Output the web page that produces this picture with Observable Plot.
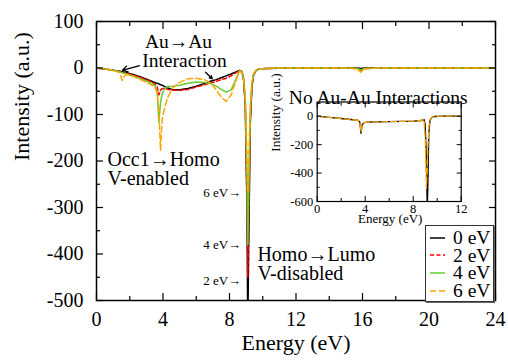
<!DOCTYPE html>
<html><head><meta charset="utf-8">
<script src="https://cdn.jsdelivr.net/npm/d3@7"></script>
<script src="https://cdn.jsdelivr.net/npm/@observablehq/plot@0.6"></script>
<style>
body{margin:0;background:#fff;}
#wrap{position:relative;width:508px;height:360px;overflow:hidden;font-family:"Liberation Serif",serif;background:#fff;}
#wrap svg{display:block;}
#inset{position:absolute;left:260px;top:75px;}
#legend{position:absolute;left:425px;top:225px;width:67px;height:72px;border:1px solid #333;box-shadow:1px 1px 0 #666;background:#fff;padding-top:3px;box-sizing:content-box;}
.row{display:flex;align-items:center;height:17.6px;font-size:19.5px;line-height:17.6px;white-space:nowrap;font-family:"Liberation Serif",serif;}
.row svg{margin-left:4px;margin-right:8px;}
</style>
</head><body>
<div id="wrap"><div id="main"></div><div id="inset"></div><div id="legend"></div></div>
<script>
// ---------- data ----------
const seriesNames = ["0 eV", "2 eV", "4 eV", "6 eV"];
const energy = [0, 0.5, 1.0, 1.4, 1.55, 1.65, 1.8, 2.2, 2.7, 3.2, 3.5, 3.65, 3.75, 3.85, 3.95, 4.1, 4.3, 4.6, 5.0, 5.5, 6.0, 6.5, 6.9, 7.2, 7.5, 7.8, 8.1, 8.35, 8.6, 8.75, 8.85, 8.95, 9.05, 9.1, 9.15, 9.25, 9.35, 9.45, 9.6, 9.8, 10.2, 11, 13, 15, 15.7, 15.9, 16.1, 17, 20, 24];
const int0eV = [0, -2, -5, -7, -8, -9, -10, -14, -20, -27, -31, -33, -34, -36, -37, -40, -43, -47, -47, -44, -39, -33, -28, -25, -21, -17, -13, -9, -5, -8, -25, -80, -300, -560, -400, -120, -40, -15, -5, -2, -1, -0.5, 0, 0, 0, -1, 0, 0, 0, 0];
const int2eV = [0, -2, -5, -7, -10, -11, -11, -15, -21, -28, -34, -40, -58, -48, -44, -44, -46, -48, -48, -46, -41, -36, -32, -29, -25, -22, -17, -11, -6, -8, -25, -80, -290, -450, -330, -110, -38, -15, -5, -2, -1, -0.5, 0, 0, -1, -5, -1, 0, 0, 0];
const int4eV = [0, -2, -5, -8, -10, -11, -13, -17, -24, -31, -37, -50, -117, -75, -55, -44, -40, -39, -37, -33, -30, -31, -34, -39, -46, -52, -47, -27, -6, -8, -22, -70, -240, -380, -280, -100, -35, -14, -5, -2, -1, 0, 0, 0, -1, -4, -1, 0, 0, 0];
const int6eV = [0, -2, -5, -10, -27, -18, -14, -18, -26, -34, -40, -55, -90, -177, -110, -85, -62, -42, -31, -23, -22, -25, -33, -47, -62, -72, -58, -32, -7, -10, -22, -60, -180, -268, -210, -80, -30, -12, -4, -2, -1, 0, 0, 0, -2, -9, -2, 0, 0, 0];

const insetEnergy = [0, 1, 2, 3, 3.4, 3.55, 3.65, 3.75, 3.9, 4.2, 5, 6, 7, 8, 8.7, 8.9, 9.0, 9.1, 9.17, 9.22, 9.3, 9.4, 9.55, 9.8, 10.5, 12];
const insetNoInt0eV = [0, -8, -16, -25, -29, -40, -120, -60, -45, -42, -40, -38, -36, -34, -30, -22, -60, -300, -650, -500, -120, -30, -8, -2, 0, 0];
const insetNoInt6eV = [0, -8, -16, -25, -29, -40, -110, -58, -45, -42, -40, -38, -36, -34, -30, -22, -150, -508, -380, -220, -80, -25, -8, -2, 0, 0];

const xTicks = [0, 4, 8, 12, 16, 20, 24];
const xMinorTicks = [2, 6, 10, 14, 18, 22];
const yTicks = [-500, -400, -300, -200, -100, 0, 100];
const yMinorTicks = [-450, -350, -250, -150, -50, 50];
const insetXTicks = [0, 4, 8, 12];
const insetXMinorTicks = [2, 6, 10];
const insetYTicks = [-600, -400, -200, 0];
const insetYMinorTicks = [-500, -300, -100];

// annotations
const centerNotes = [
  {t: "Au→Au", x: 4.93, y: 57},
  {t: "Interaction", x: 5.29, y: 16}
];
const leftNotes = [
  {t: "Occ1→Homo", x: 0.66, y: -197},
  {t: "V-enabled", x: 0.66, y: -238},
  {t: "Homo→Lumo", x: 9.68, y: -401},
  {t: "V-disabled", x: 9.68, y: -442}
];
const peakNotes = [
  {t: "6 eV→", x: 8.7, y: -268},
  {t: "4 eV→", x: 8.7, y: -380},
  {t: "2 eV→", x: 8.7, y: -457}
];
const arrows = [
  {x1: 2.59, y1: 5, x2: 1.56, y2: -5},
  {x1: 6.56, y1: -9, x2: 6.96, y2: -23}
];

// ---------- styles ----------
const styles = {
  "0 eV": {stroke: "#000000", dash: null},
  "2 eV": {stroke: "#ff0000", dash: "4,2.5"},
  "4 eV": {stroke: "#66cc33", dash: null},
  "6 eV": {stroke: "#ffa500", dash: "6,3"}
};
const mainVals = {"0 eV": int0eV, "2 eV": int2eV, "4 eV": int4eV, "6 eV": int6eV};
const insetVals = {"0 eV": insetNoInt0eV, "6 eV": insetNoInt6eV};

const fmt = d => String(d);
const font = "Liberation Serif";

const lineMarks = (xs, vals, sw) => Object.keys(vals).map(k =>
  Plot.line(xs.map((e, i) => ({E: e, v: vals[k][i]})), {
    x: "E", y: "v", stroke: styles[k].stroke, strokeWidth: sw,
    strokeDasharray: styles[k].dash, clip: true, curve: "linear"
  }));

const inwardTicks = (xMaj, xMin, yMaj, yMin, big, small, sw) => [
  Plot.axisX({anchor: "bottom", ticks: xMaj, tickSize: big, dy: -big, fill: "none", label: null, strokeWidth: sw}),
  Plot.axisX({anchor: "bottom", ticks: xMin, tickSize: small, dy: -small, fill: "none", label: null, strokeWidth: sw}),
  Plot.axisX({anchor: "top", ticks: xMaj, tickSize: big, dy: big, fill: "none", label: null, strokeWidth: sw}),
  Plot.axisX({anchor: "top", ticks: xMin, tickSize: small, dy: small, fill: "none", label: null, strokeWidth: sw}),
  Plot.axisY({anchor: "left", ticks: yMaj, tickSize: big, dx: big, fill: "none", label: null, strokeWidth: sw}),
  Plot.axisY({anchor: "left", ticks: yMin, tickSize: small, dx: small, fill: "none", label: null, strokeWidth: sw}),
  Plot.axisY({anchor: "right", ticks: yMaj, tickSize: big, dx: -big, fill: "none", label: null, strokeWidth: sw}),
  Plot.axisY({anchor: "right", ticks: yMin, tickSize: small, dx: -small, fill: "none", label: null, strokeWidth: sw})
];

function setFont(svg) {
  svg.setAttribute("font-family", font);
  svg.style.fontFamily = '"Liberation Serif", serif';
  svg.querySelectorAll("text, g").forEach(el => el.setAttribute("font-family", font));
  return svg;
}

// ---------- main chart ----------
const main = Plot.plot({
  width: 508, height: 360,
  marginLeft: 96, marginRight: 13, marginTop: 21, marginBottom: 60,
  x: {domain: [0, 24]},
  y: {domain: [-500, 100]},
  style: "font-family: 'Liberation Serif', serif; color: #000; background: transparent; overflow: visible;",
  marks: [
    ...lineMarks(energy, mainVals, 1.5),
    Plot.frame({stroke: "#000", strokeWidth: 1.5}),
    ...inwardTicks(xTicks, xMinorTicks, yTicks, yMinorTicks, 7, 4, 1.2),
    Plot.axisY({ticks: yTicks, tickSize: 0, tickPadding: 13, fontSize: 20, fontFamily: font, tickFormat: fmt, label: null}),
    Plot.axisX({ticks: xTicks, tickSize: 0, tickPadding: 11, fontSize: 20, fontFamily: font, tickFormat: fmt, label: null}),
    Plot.text(["Energy (eV)"], {frameAnchor: "bottom", dy: 49, fontSize: 22, fontFamily: font}),
    Plot.text(["Intensity (a.u.)"], {frameAnchor: "left", dx: -75, rotate: -90, fontSize: 22, fontFamily: font}),
    Plot.text(centerNotes, {x: "x", y: "y", text: "t", textAnchor: "middle", fontSize: 19.5, fontFamily: font}),
    Plot.text(leftNotes, {x: "x", y: "y", text: "t", textAnchor: "start", fontSize: 20, fontFamily: font}),
    Plot.text(peakNotes, {x: "x", y: "y", text: "t", textAnchor: "end", fontSize: 13, fontFamily: font}),
    Plot.arrow(arrows, {x1: "x1", y1: "y1", x2: "x2", y2: "y2", stroke: "#000", strokeWidth: 1.3, headLength: 7})
  ]
});
document.getElementById("main").appendChild(setFont(main));

// ---------- inset ----------
const inset = Plot.plot({
  width: 225, height: 155,
  marginLeft: 56.7, marginRight: 24.3, marginTop: 26.5, marginBottom: 29,
  x: {domain: [0, 12]},
  y: {domain: [-600, 100]},
  style: "font-family: 'Liberation Serif', serif; color: #000; background: transparent; overflow: visible;",
  marks: [
    ...lineMarks(insetEnergy, insetVals, 1.3),
    Plot.frame({stroke: "#000", strokeWidth: 1.2}),
    ...inwardTicks(insetXTicks, insetXMinorTicks, insetYTicks, insetYMinorTicks, 5, 3, 1),
    Plot.axisY({ticks: insetYTicks, tickSize: 0, tickPadding: 4, fontSize: 12.5, fontFamily: font, tickFormat: fmt, label: null}),
    Plot.axisX({ticks: insetXTicks, tickSize: 0, tickPadding: 3, fontSize: 12.5, fontFamily: font, tickFormat: fmt, label: null}),
    Plot.text(["No Au-Au Interactions"], {frameAnchor: "top", dx: -11, dy: -11.5, fontSize: 19.5, fontFamily: font}),
    Plot.text(["Energy (eV)"], {frameAnchor: "bottom", dx: 1, dy: 21.5, fontSize: 13, fontFamily: font}),
    Plot.text(["Intensity (a.u.)"], {frameAnchor: "left", dx: -41.7, rotate: -90, fontSize: 13.4, fontFamily: font})
  ]
});
document.getElementById("inset").appendChild(setFont(inset));

// ---------- legend ----------
const legend = document.getElementById("legend");
seriesNames.forEach(k => {
  const row = document.createElement("div");
  row.className = "row";
  row.innerHTML = `<svg width="15" height="10"><line x1="0" y1="5" x2="15" y2="5" stroke="${styles[k].stroke}" stroke-width="1.5" ${styles[k].dash ? `stroke-dasharray="${styles[k].dash}"` : ""}/></svg><span>${k}</span>`;
  legend.appendChild(row);
});
</script>
</body></html>
